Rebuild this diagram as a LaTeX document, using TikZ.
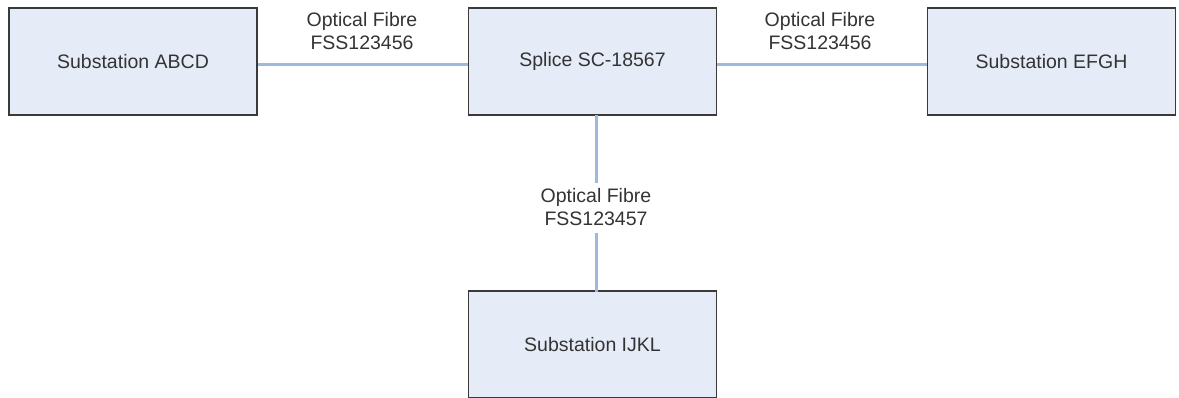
\documentclass[tikz,border=0pt]{standalone}
\usepackage{fontspec}
\setmainfont{Liberation Sans}
\definecolor{boxfill}{HTML}{E6ECF7}
\definecolor{boxline}{HTML}{3A3A3A}
\definecolor{fibre}{HTML}{9DB9E0}
\definecolor{txt}{HTML}{333333}
\begin{document}
\begin{tikzpicture}[x=1pt,y=-1pt,
  station/.style={draw=boxline,line width=1.8pt,fill=boxfill,minimum width=248pt,minimum height=107pt,inner sep=0pt,font=\fontsize{19.5}{23}\selectfont,text=txt},
  fibreline/.style={draw=fibre,line width=3pt},
  flabel/.style={font=\fontsize{19.5}{23}\selectfont,text=txt,align=center,inner sep=0pt}]
\useasboundingbox (0,0) rectangle (1179,398);
\node[station] (abcd) at (133,61.5) {Substation ABCD};
\node[station] (splice) at (592.5,61.5) {Splice SC-18567};
\node[station] (efgh) at (1051.5,61.5) {Substation EFGH};
\node[station] (ijkl) at (592.5,344.5) {Substation IJKL};
\coordinate (sl) at (splice.west |- 0,65);
\coordinate (sr) at (splice.east |- 0,65);
\coordinate (al) at (abcd.east |- 0,65);
\coordinate (er) at (efgh.west |- 0,65);
\coordinate (sb) at (596,115);
\coordinate (it) at (596,292);
\coordinate (g1) at (596,183);
\coordinate (g2) at (596,233);
\draw[fibreline] (al) -- (sl);
\draw[fibreline] (sr) -- (er);
\draw[fibreline] (sb) -- (g1);
\draw[fibreline] (g2) -- (it);
\node[flabel] (l1) at (362,31) {Optical Fibre\\FSS123456};
\node[flabel] (l2) at (820,31) {Optical Fibre\\FSS123456};
\node[flabel] (l3) at (596,207) {Optical Fibre\\FSS123457};
\end{tikzpicture}
\end{document}
